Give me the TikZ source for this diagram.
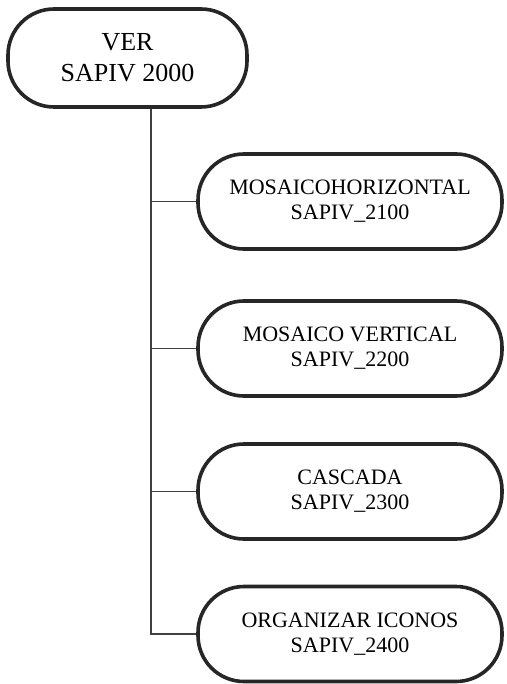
\documentclass[tikz,border=0pt]{standalone}
\usepackage{fontspec}
\setmainfont{Liberation Serif}
\begin{document}
\begin{tikzpicture}[x=1pt,y=-1pt,
  box/.style={draw=black!85, line width=3.6pt, rounded corners=46pt, fill=white, align=center, inner sep=0pt},
  topbox/.style={box, minimum width=239pt, minimum height=98pt, font=\fontsize{26}{31}\selectfont},
  childbox/.style={box, minimum width=304pt, minimum height=95pt, font=\fontsize{22}{25}\selectfont},
  conn/.style={draw=black!75, line width=1.3pt}]
\useasboundingbox (0,0) rectangle (506,684);
\node[topbox] (top) at (127.5,58) {VER\\SAPIV 2000};
\node[childbox] (n1) at (350,201.5) {MOSAICOHORIZONTAL\\SAPIV\_2100};
\node[childbox] (n2) at (350,348.5) {MOSAICO VERTICAL\\SAPIV\_2200};
\node[childbox] (n3) at (350,491.5) {CASCADA\\SAPIV\_2300};
\node[childbox] (n4) at (350,634) {ORGANIZAR ICONOS\\SAPIV\_2400};
\coordinate (tr) at (151,0);
\path[conn] (top.south -| tr) |- (n4.west);
\path[conn] (tr |- n1.west) -- (n1.west);
\path[conn] (tr |- n2.west) -- (n2.west);
\path[conn] (tr |- n3.west) -- (n3.west);
\end{tikzpicture}
\end{document}
